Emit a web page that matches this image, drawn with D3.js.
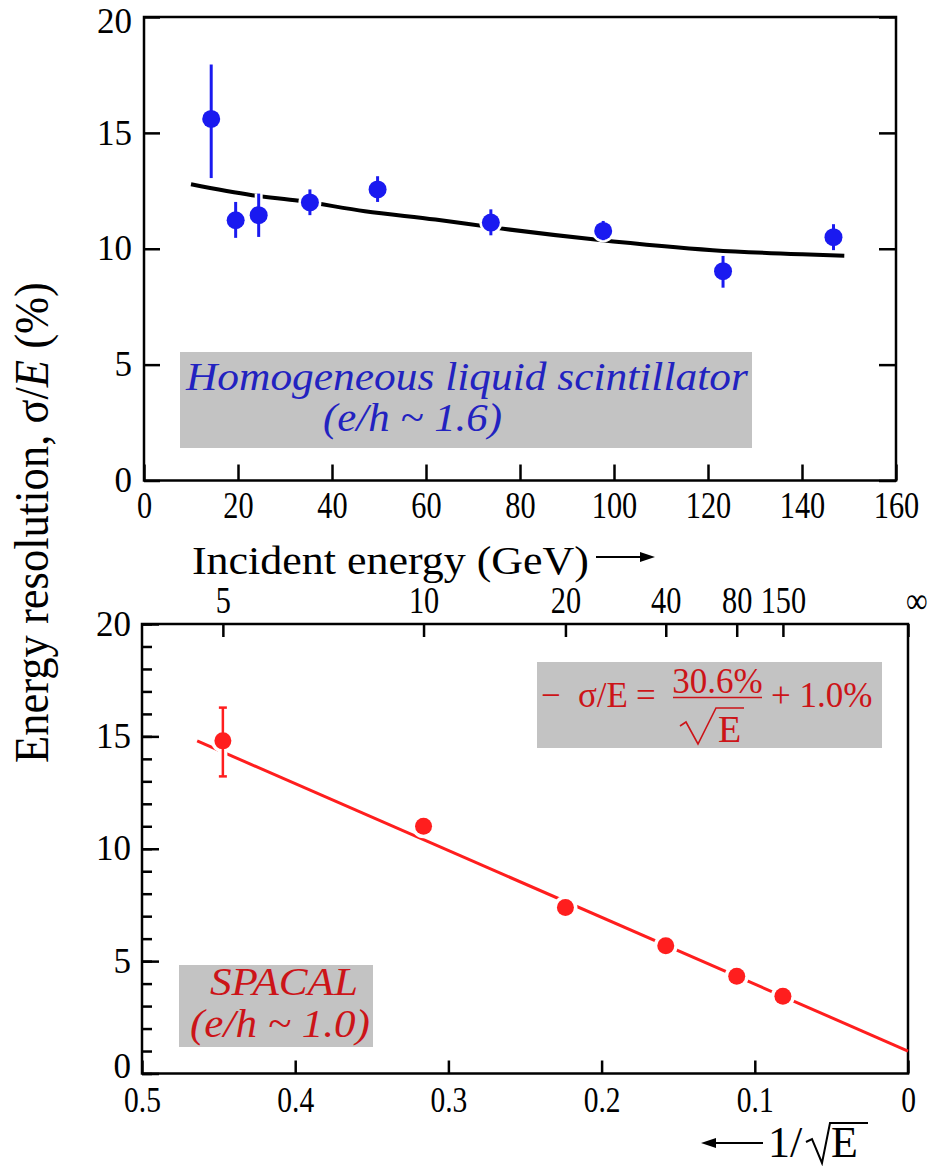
<!DOCTYPE html>
<html><head><meta charset="utf-8">
<script src="https://cdn.jsdelivr.net/npm/d3@7"></script>
<style>
body{margin:0;background:#fff}
svg{display:block}
text{font-family:"Liberation Serif","Times New Roman",serif}
</style>
</head><body>
<svg id="c" width="928" height="1166"></svg>
<script>
// ---------- TOP PANEL DATA (homogeneous liquid scintillator) ----------
const topEnergy   = [14.3, 19.5, 24.4, 35.3, 49.7, 73.8, 97.7, 123.2, 146.7];
const topRes      = [15.6, 11.23, 11.45, 12.0, 12.56, 11.13, 10.77, 9.03, 10.5];
const topErrLow   = [13.05, 10.47, 10.51, 11.45, 12.02, 10.58, 10.37, 8.32, 9.94];
const topErrHigh  = [17.95, 12.02, 12.38, 12.56, 13.13, 11.7, 11.2, 9.69, 11.06];
const topFitE     = [10, 23, 33, 47, 62, 75, 96, 121, 140, 149];
const topFitRes   = [12.78, 12.31, 12.07, 11.62, 11.26, 10.9, 10.4, 9.94, 9.76, 9.7];
const topXTicks   = [0, 20, 40, 60, 80, 100, 120, 140, 160];
const topYTicks   = [0, 5, 10, 15, 20];

// ---------- BOTTOM PANEL DATA (SPACAL) ----------
const botEnergy    = [5, 10, 20, 40, 80, 150];
const botRes       = [14.8, 11.0, 7.39, 5.68, 4.33, 3.44];
const botErrLow    = [13.22, null, null, null, null, null];
const botErrHigh   = [16.28, null, null, null, null, null];
const botFitInvSqrtE = [0.464, 0];
const botFitRes      = [14.8, 1.0];
const botXTicks    = [0.5, 0.4, 0.3, 0.2, 0.1, 0];
const botTopTicks  = [5, 10, 20, 40, 80, 150, Infinity];
const botYTicks    = [0, 5, 10, 15, 20];
const botYMinor    = d3.range(0, 21, 1);

const svg = d3.select("#c");
const BLUE = "#1a1af0", BLUE_T = "#2222c0", RED = "#ff1e1e", RED_T = "#cc1418", GRAY = "#c3c3c3";

function fitW(t, target) {
  const w = t.node().getComputedTextLength();
  const s = target / w;
  const x = +t.attr("x") || 0;
  t.attr("transform", `translate(${x},0) scale(${s},1) translate(${-x},0)`);
}
function styleAxis(g, fs, sx) {
  g.select(".domain").remove();
  g.selectAll(".tick line").attr("stroke", "#000").attr("stroke-width", 2.5);
  g.selectAll(".tick text").attr("fill", "#000").attr("font-size", fs)
    .attr("font-family", '"Liberation Serif","Times New Roman",serif');
  if (sx) g.selectAll(".tick text").attr("transform", `scale(${sx},1)`);
}

// ================= TOP PANEL =================
const tx = d3.scaleLinear().domain([0, 160]).range([144, 896]);
const ty = d3.scaleLinear().domain([0, 20]).range([480.5, 17]);
const T = svg.append("g");

T.append("rect").attr("x", 180).attr("y", 352).attr("width", 572).attr("height", 96).attr("fill", GRAY);

T.append("g").attr("transform", "translate(0,480.5)")
  .call(d3.axisBottom(tx).tickValues(topXTicks).tickSizeInner(-16).tickSizeOuter(0).tickPadding(11))
  .call(g => styleAxis(g, 37, 0.82));
T.append("g").attr("transform", "translate(144,0)")
  .call(d3.axisLeft(ty).tickValues(topYTicks).tickSizeInner(-16).tickSizeOuter(0).tickPadding(12))
  .call(g => styleAxis(g, 35))
  .call(g => g.selectAll(".tick text").filter(d => d === 20).attr("dy", "0.45em"));
T.append("g").attr("transform", "translate(896,0)")
  .call(d3.axisRight(ty).tickValues(topYTicks).tickSizeInner(-17).tickSizeOuter(0).tickFormat(""))
  .call(g => styleAxis(g, 35));
T.append("rect").attr("x", 144).attr("y", 17).attr("width", 752).attr("height", 463.5)
  .attr("fill", "none").attr("stroke", "#000").attr("stroke-width", 2.5);

// fit curve
T.append("path")
  .attr("d", d3.line().x(d => tx(d[0])).y(d => ty(d[1])).curve(d3.curveMonotoneX)(topFitE.map((e, i) => [e, topFitRes[i]])))
  .attr("fill", "none").attr("stroke", "#000").attr("stroke-width", 4);

// white halos first, then marks
topEnergy.forEach((e, i) => {
  const x = tx(e);
  T.append("line").attr("x1", x).attr("x2", x).attr("y1", ty(topErrLow[i])).attr("y2", ty(topErrHigh[i]))
    .attr("stroke", "#fff").attr("stroke-width", 8);
  T.append("circle").attr("cx", x).attr("cy", ty(topRes[i])).attr("r", 11.5).attr("fill", "#fff");
});
topEnergy.forEach((e, i) => {
  const x = tx(e);
  T.append("line").attr("x1", x).attr("x2", x).attr("y1", ty(topErrLow[i])).attr("y2", ty(topErrHigh[i]))
    .attr("stroke", BLUE).attr("stroke-width", 3);
  T.append("circle").attr("cx", x).attr("cy", ty(topRes[i])).attr("r", 9).attr("fill", BLUE);
});

// annotation
const h1 = T.append("text").attr("x", 186).attr("y", 390).attr("font-size", 40).attr("font-style", "italic")
  .attr("fill", BLUE_T).text("Homogeneous liquid scintillator");
fitW(h1, 562);
const h2 = T.append("text").attr("x", 323).attr("y", 431).attr("font-size", 40).attr("font-style", "italic")
  .attr("fill", BLUE_T).text("(e/h ~ 1.6)");
fitW(h2, 179);

// x-axis title
const xt = svg.append("text").attr("x", 192).attr("y", 574).attr("font-size", 40).attr("fill", "#000")
  .text("Incident energy (GeV)");
fitW(xt, 397);
svg.append("line").attr("x1", 596).attr("x2", 644).attr("y1", 557).attr("y2", 557).attr("stroke", "#000").attr("stroke-width", 2);
svg.append("path").attr("d", "M655,557 L640,552 L640,562 Z").attr("fill", "#000");

// y-axis title (shared)
const yl = svg.append("g").attr("transform", "translate(48,522.5) rotate(-90)");
const ylt = yl.append("text").attr("x", 0).attr("y", 0).attr("text-anchor", "middle").attr("font-size", 48).attr("fill", "#000");
ylt.append("tspan").text("Energy resolution, σ/");
ylt.append("tspan").attr("font-style", "italic").text("E");
ylt.append("tspan").text(" (%)");
fitW(ylt, 481);

// ================= BOTTOM PANEL =================
const bxU = d3.scaleLinear().domain([0.5, 0]).range([142, 908]);
const bxE = d3.scalePow().exponent(-0.5).domain([4, Infinity]).range([142, 908]);
const by = d3.scaleLinear().domain([0, 20]).range([1073.5, 624]);
const B = svg.append("g");

B.append("rect").attr("x", 537).attr("y", 662).attr("width", 345).attr("height", 86).attr("fill", GRAY);
B.append("rect").attr("x", 179).attr("y", 965).attr("width", 194).attr("height", 82).attr("fill", GRAY);

B.append("g").attr("transform", "translate(0,1073.5)")
  .call(d3.axisBottom(bxU).tickValues(botXTicks).tickSizeInner(-13).tickSizeOuter(0).tickPadding(13)
    .tickFormat(d => d === 0 ? "0" : d3.format(".1f")(d)))
  .call(g => styleAxis(g, 36, 0.82));
B.append("g").attr("transform", "translate(0,624)")
  .call(d3.axisTop(bxE).tickValues(botTopTicks).tickSizeInner(-13).tickSizeOuter(0).tickPadding(11)
    .tickFormat(d => d === Infinity ? "∞" : d))
  .call(g => styleAxis(g, 37, 0.82));
B.selectAll("g .tick text").filter(d => d === Infinity).attr("dx", 10);
B.append("g").attr("transform", "translate(142,0)")
  .call(d3.axisLeft(by).tickValues(botYMinor).tickSizeInner(-10).tickSizeOuter(0).tickFormat(""))
  .call(g => styleAxis(g, 35));
B.append("g").attr("transform", "translate(142,0)")
  .call(d3.axisLeft(by).tickValues(botYTicks).tickSizeInner(-17).tickSizeOuter(0).tickPadding(11))
  .call(g => styleAxis(g, 35))
  .call(g => g.selectAll(".tick text").filter(d => d === 0).attr("dy", "0.1em"));
B.append("rect").attr("x", 142).attr("y", 624).attr("width", 766).attr("height", 449.5)
  .attr("fill", "none").attr("stroke", "#000").attr("stroke-width", 2.5);

// fit line
B.append("path")
  .attr("d", d3.line().x(d => bxU(d[0])).y(d => by(d[1]))(botFitInvSqrtE.map((u, i) => [u, botFitRes[i]])))
  .attr("stroke", RED).attr("stroke-width", 3).attr("fill", "none");

botEnergy.forEach((e, i) => {
  const x = bxE(e), y = by(botRes[i]);
  if (botErrLow[i] != null) {
    const y1 = by(botErrLow[i]), y2 = by(botErrHigh[i]);
    B.append("line").attr("x1", x).attr("x2", x).attr("y1", y1 + 2).attr("y2", y2 - 2).attr("stroke", "#fff").attr("stroke-width", 9);
  }
  B.append("circle").attr("cx", x).attr("cy", y).attr("r", 12).attr("fill", "#fff");
});
botEnergy.forEach((e, i) => {
  const x = bxE(e), y = by(botRes[i]);
  if (botErrLow[i] != null) {
    const y1 = by(botErrLow[i]), y2 = by(botErrHigh[i]);
    B.append("line").attr("x1", x).attr("x2", x).attr("y1", y1).attr("y2", y2).attr("stroke", RED).attr("stroke-width", 2.5);
    [y1, y2].forEach(yy => B.append("line").attr("x1", x - 4).attr("x2", x + 4).attr("y1", yy).attr("y2", yy)
      .attr("stroke", RED).attr("stroke-width", 2.5));
  }
  B.append("circle").attr("cx", x).attr("cy", y).attr("r", 8.5).attr("fill", RED);
});

// formula
const fs = 35;
B.append("text").attr("x", 541).attr("y", 707).attr("font-size", fs).attr("fill", RED_T).text("−");
B.append("text").attr("x", 578).attr("y", 707).attr("font-size", fs).attr("fill", RED_T).text("σ/E");
B.append("text").attr("x", 636).attr("y", 707).attr("font-size", fs).attr("fill", RED_T).text("=");
B.append("text").attr("x", 717.5).attr("y", 693).attr("text-anchor", "middle").attr("font-size", fs).attr("fill", RED_T).text("30.6%");
B.append("line").attr("x1", 673).attr("x2", 762).attr("y1", 697.5).attr("y2", 697.5).attr("stroke", RED_T).attr("stroke-width", 1.6);
B.append("path").attr("d", "M680,726 L686,722 L698,744 L716,708 L744,708").attr("fill", "none").attr("stroke", RED_T).attr("stroke-width", 1.6);
B.append("text").attr("x", 718).attr("y", 742).attr("font-size", 38).attr("fill", RED_T).text("E");
B.append("text").attr("x", 771).attr("y", 707).attr("font-size", fs).attr("fill", RED_T).text("+ 1.0%");

// SPACAL label
const s1 = B.append("text").attr("x", 210).attr("y", 995).attr("font-size", 40).attr("font-style", "italic").attr("fill", RED_T).text("SPACAL");
fitW(s1, 148);
const s2 = B.append("text").attr("x", 190).attr("y", 1037).attr("font-size", 40).attr("font-style", "italic").attr("fill", RED_T).text("(e/h ~ 1.0)");
fitW(s2, 180);

// bottom axis title  ← 1/√E
svg.append("line").attr("x1", 713).attr("x2", 763).attr("y1", 1143).attr("y2", 1143).attr("stroke", "#000").attr("stroke-width", 2);
svg.append("path").attr("d", "M701,1143 L716,1138 L716,1148 Z").attr("fill", "#000");
svg.append("text").attr("x", 768).attr("y", 1157).attr("font-size", 44).attr("fill", "#000").text("1/");
svg.append("path").attr("d", "M806,1142 L812,1139 L822,1163 L830,1123 L868,1123").attr("fill", "none").attr("stroke", "#000").attr("stroke-width", 2);
svg.append("text").attr("x", 831).attr("y", 1157).attr("font-size", 44).attr("fill", "#000").text("E");
</script>
</body></html>
